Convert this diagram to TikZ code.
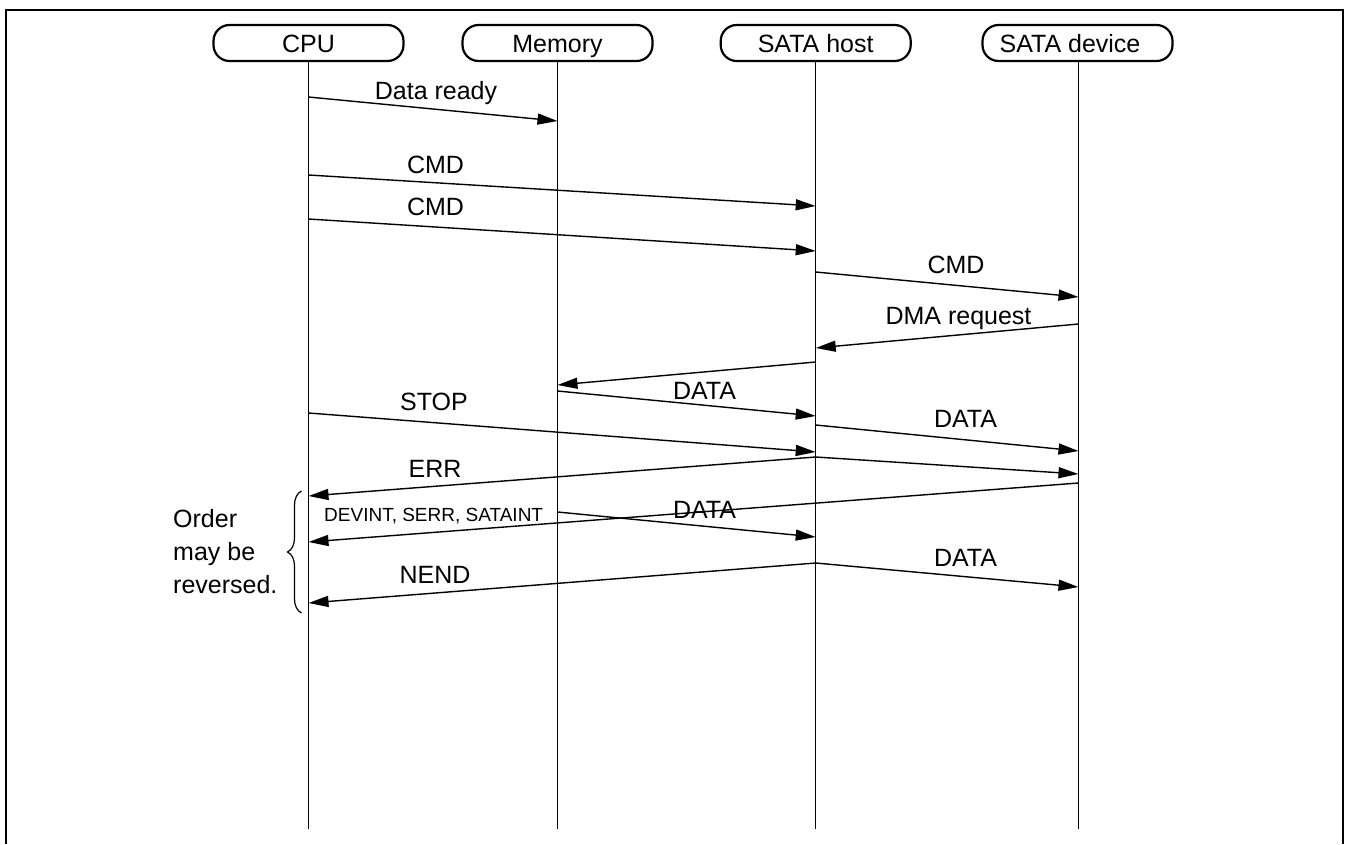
\documentclass[tikz,border=0pt]{standalone}
\usepackage{fontspec}
\setmainfont{Liberation Sans}
\usetikzlibrary{arrows.meta,decorations.pathreplacing}
\begin{document}
\begin{tikzpicture}[x=1pt,y=-1pt,
  actor/.style={draw,line width=2.2pt,rounded corners=16pt,minimum width=190pt,minimum height=36pt,inner sep=0pt,text height=18pt,text depth=0pt,font=\fontsize{25}{30}\selectfont},
  life/.style={line width=1.3pt},
  msg/.style={line width=1.4pt,-{Triangle[length=20pt,width=11pt]}},
  lbl/.style={anchor=base,inner sep=0pt,font=\fontsize{25}{30}\selectfont},
  smalllbl/.style={anchor=base west,inner sep=0pt,font=\fontsize{19}{23}\selectfont},
]
\useasboundingbox (0,0) rectangle (1347,844);
% frame (open at bottom)
\coordinate (f1) at (6,844);
\coordinate (f2) at (6,10);
\coordinate (f3) at (1343,10);
\coordinate (f4) at (1343,844);
\draw[line width=2pt] (f1) -- (f2) -- (f3) -- (f4);

% actors
\node[actor] (cpu) at (308.5,43) {CPU};
\node[actor] (mem) at (557.5,43) {Memory};
\node[actor] (host) at (815.7,43) {SATA host};
\node[actor] (dev) at (1077.5,43) {SATA device\hspace*{15pt}};

% lifeline ends
\coordinate (cpuE) at (308.5,829);
\coordinate (memE) at (557.5,829);
\coordinate (hostE) at (815.7,829);
\coordinate (devE) at (1078.5,829);
\draw[life] (cpu.south) -- (cpuE);
\draw[life] (mem.south) -- (memE);
\draw[life] (host.south) -- (hostE);
\draw[life] (dev.south -| devE) -- (devE);

% message end points
\coordinate (a1) at (308.5,97);   \coordinate (b1) at (557.5,121);
\coordinate (a2) at (308.5,175);  \coordinate (b2) at (815.7,206);
\coordinate (a3) at (308.5,219);  \coordinate (b3) at (815.7,251);
\coordinate (a4) at (815.7,272);  \coordinate (b4) at (1078.5,297);
\coordinate (a5) at (1078.5,324); \coordinate (b5) at (815.7,348);
\coordinate (a6) at (815.7,362);  \coordinate (b6) at (557.5,385);
\coordinate (a7) at (557.5,391);  \coordinate (b7) at (815.7,416);
\coordinate (a8) at (308.5,413);  \coordinate (b8) at (815.7,452);
\coordinate (a9) at (815.7,425);  \coordinate (b9) at (1078.5,451);
\coordinate (a10) at (815.7,457); \coordinate (b10) at (308.5,496);
\coordinate (b11) at (1078.5,474);
\coordinate (a12) at (1078.5,483); \coordinate (b12) at (308.5,542);
\coordinate (a13) at (557.5,512); \coordinate (b13) at (815.7,537);
\coordinate (a14) at (815.7,563); \coordinate (b14) at (308.5,603);
\coordinate (b15) at (1078.5,587);

\draw[msg] (a1) -- (b1);
\draw[msg] (a2) -- (b2);
\draw[msg] (a3) -- (b3);
\draw[msg] (a4) -- (b4);
\draw[msg] (a5) -- (b5);
\draw[msg] (a6) -- (b6);
\draw[msg] (a7) -- (b7);
\draw[msg] (a8) -- (b8);
\draw[msg] (a9) -- (b9);
\draw[msg] (a10) -- (b10);
\draw[msg] (a10) -- (b11);
\draw[msg] (a12) -- (b12);
\draw[msg] (a13) -- (b13);
\draw[msg] (a14) -- (b14);
\draw[msg] (a14) -- (b15);

% labels
\node[lbl] (l1) at (436,99) {Data ready};
\node[lbl] (l2) at (435.5,173) {CMD};
\node[lbl] (l3) at (435.5,215) {CMD};
\node[lbl] (l4) at (956,273) {CMD};
\node[lbl] (l5) at (958.5,324) {DMA request};
\node[lbl] (l7) at (704.5,399) {DATA};
\node[lbl] (l8) at (434,410) {STOP};
\node[lbl] (l9) at (965.5,427) {DATA};
\node[lbl] (l10) at (435,477) {ERR};
\node[smalllbl] (l12) at (324,521) {DEVINT, SERR, SATAINT};
\node[lbl] (l13) at (704.5,518) {DATA};
\node[lbl] (l14) at (435,583) {NEND};
\node[lbl] (l15) at (965.5,566) {DATA};

% brace and note
\coordinate (br1) at (301.5,613);
\coordinate (br2) at (301.5,491);
\draw[line width=1.2pt,decorate,decoration={brace,amplitude=14pt}] (br1) -- (br2);
\node[anchor=north west,align=left,inner sep=0pt,font=\fontsize{25}{33}\selectfont] (note) at (173,509) {Order\\may be\\reversed.};
\end{tikzpicture}
\end{document}
